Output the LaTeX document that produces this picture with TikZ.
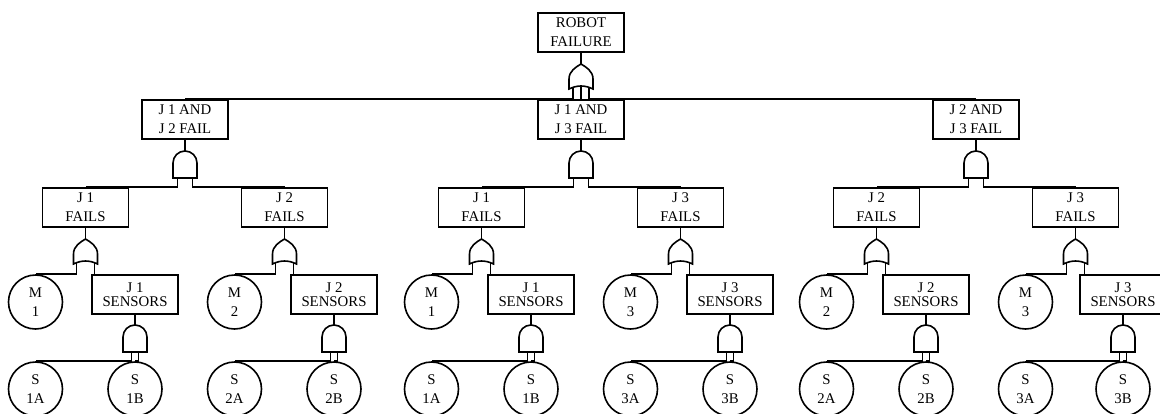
\documentclass[tikz,border=0pt]{standalone}
\usepackage{fontspec}
\setmainfont{Liberation Serif}
\usetikzlibrary{positioning}

\begin{document}
\begin{tikzpicture}[x=1pt,y=-1pt,line width=1.6pt,
    every node/.style={font=\fontsize{14.8}{19}\selectfont},
    evbox/.style={draw,minimum width=86pt,minimum height=39pt,
                  inner sep=0pt,align=center},
    snbox/.style={evbox,font=\fontsize{14.8}{14}\selectfont},
    basic/.style={draw,circle,minimum size=54pt,inner sep=0pt,align=center},
    pics/andgate/.style={code={
      \draw (-12,0) -- (-12,-15) arc[start angle=180,end angle=360,radius=12]
            -- (12,0) -- cycle;
      \coordinate (-top) at (0,-27);
      \coordinate (-in1) at (-#1,0);
      \coordinate (-in2) at (#1,0);
    }},
    pics/orgate/.style={code={
      \draw (-12,0) -- (-12,-10) .. controls (-12,-18) and (-5,-22) .. (0,-25)
            .. controls (5,-22) and (12,-18) .. (12,-10) -- (12,0)
            .. controls (4,-4) and (-4,-4) .. (-12,0) -- cycle;
      \coordinate (-top) at (0,-25);
      \coordinate (-in0) at (0,-3);
      \coordinate (-in1) at (-#1,-1.3);
      \coordinate (-in2) at (#1,-1.3);
    }}]
  \useasboundingbox (0,0) rectangle (1160,413);

  %% Top event
  \node[evbox] (rf) at (581,32.5) {ROBOT\\FAILURE};
  \pic (g0) at (581,89) {orgate=8};

  %% Joint pairs
  \node[evbox] (j12) at (185,119.5) {J 1 AND\\J 2 FAIL};
  \node[evbox] (j13) at (581,119.5) {J 1 AND\\J 3 FAIL};
  \node[evbox] (j23) at (976,119.5) {J 2 AND\\J 3 FAIL};
  \pic (a12) at (185,178) {andgate=7.5};
  \pic (a13) at (581,178) {andgate=7.5};
  \pic (a23) at (976,178) {andgate=7.5};

  \draw (rf.south) -- (g0-top);
  \draw (g0-in1) |- (j12.north);
  \draw (g0-in0) -- (j13.north);
  \draw (g0-in2) |- (j23.north);
  \draw (j12.south) -- (a12-top);
  \draw (j13.south) -- (a13-top);
  \draw (j23.south) -- (a23-top);

  %% Single joint failures
  \node[evbox] (fa1) at (85.5,207.5)   {J 1\\FAILS};
  \node[evbox] (fa2) at (284.5,207.5)  {J 2\\FAILS};
  \node[evbox] (fb1) at (481.5,207.5)  {J 1\\FAILS};
  \node[evbox] (fb3) at (680.5,207.5)  {J 3\\FAILS};
  \node[evbox] (fc2) at (876.5,207.5)  {J 2\\FAILS};
  \node[evbox] (fc3) at (1075.5,207.5) {J 3\\FAILS};

  \draw (a12-in1) |- (fa1.north);
  \draw (a12-in2) |- (fa2.north);
  \draw (a13-in1) |- (fb1.north);
  \draw (a13-in2) |- (fb3.north);
  \draw (a23-in1) |- (fc2.north);
  \draw (a23-in2) |- (fc3.north);

  \pic (oa1) at (85.5,264)   {orgate=9};
  \pic (oa2) at (284.5,264)  {orgate=9};
  \pic (ob1) at (481.5,264)  {orgate=9};
  \pic (ob3) at (680.5,264)  {orgate=9};
  \pic (oc2) at (876.5,264)  {orgate=9};
  \pic (oc3) at (1075.5,264) {orgate=9};

  \draw (fa1.south) -- (oa1-top);
  \draw (fa2.south) -- (oa2-top);
  \draw (fb1.south) -- (ob1-top);
  \draw (fb3.south) -- (ob3-top);
  \draw (fc2.south) -- (oc2-top);
  \draw (fc3.south) -- (oc3-top);

  %% Motors and sensor groups
  \node[basic] (ma1) at (35.5,302)   {M\\1};
  \node[basic] (ma2) at (234.5,302)  {M\\2};
  \node[basic] (mb1) at (431.5,302)  {M\\1};
  \node[basic] (mb3) at (630.5,302)  {M\\3};
  \node[basic] (mc2) at (826.5,302)  {M\\2};
  \node[basic] (mc3) at (1025.5,302) {M\\3};

  \node[snbox] (sna1) at (135,294.5)  {J 1\\SENSORS};
  \node[snbox] (sna2) at (334,294.5)  {J 2\\SENSORS};
  \node[snbox] (snb1) at (531,294.5)  {J 1\\SENSORS};
  \node[snbox] (snb3) at (730,294.5)  {J 3\\SENSORS};
  \node[snbox] (snc2) at (926,294.5)  {J 2\\SENSORS};
  \node[snbox] (snc3) at (1123,294.5) {J 3\\SENSORS};

  \draw (oa1-in1) |- (ma1.north);
  \draw (oa2-in1) |- (ma2.north);
  \draw (ob1-in1) |- (mb1.north);
  \draw (ob3-in1) |- (mb3.north);
  \draw (oc2-in1) |- (mc2.north);
  \draw (oc3-in1) |- (mc3.north);
  \draw (oa1-in2) -- (oa1-in2 |- sna1.north);
  \draw (oa2-in2) -- (oa2-in2 |- sna2.north);
  \draw (ob1-in2) -- (ob1-in2 |- snb1.north);
  \draw (ob3-in2) -- (ob3-in2 |- snb3.north);
  \draw (oc2-in2) -- (oc2-in2 |- snc2.north);
  \draw (oc3-in2) -- (oc3-in2 |- snc3.north);

  \pic (ga1) at (135,352)  {andgate=3.5};
  \pic (ga2) at (334,352)  {andgate=3.5};
  \pic (gb1) at (531,352)  {andgate=3.5};
  \pic (gb3) at (730,352)  {andgate=3.5};
  \pic (gc2) at (926,352)  {andgate=3.5};
  \pic (gc3) at (1123,352) {andgate=3.5};

  \draw (sna1.south) -- (ga1-top);
  \draw (sna2.south) -- (ga2-top);
  \draw (snb1.south) -- (gb1-top);
  \draw (snb3.south) -- (gb3-top);
  \draw (snc2.south) -- (gc2-top);
  \draw (snc3.south) -- (gc3-top);

  %% Individual sensors
  \node[basic] (sa1a) at (35.5,389)   {S\\1A};
  \node[basic] (sa1b) at (135,389)    {S\\1B};
  \node[basic] (sa2a) at (234.5,389)  {S\\2A};
  \node[basic] (sa2b) at (334,389)    {S\\2B};
  \node[basic] (sb1a) at (431.5,389)  {S\\1A};
  \node[basic] (sb1b) at (531,389)    {S\\1B};
  \node[basic] (sb3a) at (630.5,389)  {S\\3A};
  \node[basic] (sb3b) at (730,389)    {S\\3B};
  \node[basic] (sc2a) at (826.5,389)  {S\\2A};
  \node[basic] (sc2b) at (926,389)    {S\\2B};
  \node[basic] (sc3a) at (1025.5,389) {S\\3A};
  \node[basic] (sc3b) at (1123,389)   {S\\3B};

  \draw (ga1-in1) |- (sa1a.north);
  \draw (ga1-in2) |- (sa1b.north);
  \draw (ga2-in1) |- (sa2a.north);
  \draw (ga2-in2) |- (sa2b.north);
  \draw (gb1-in1) |- (sb1a.north);
  \draw (gb1-in2) |- (sb1b.north);
  \draw (gb3-in1) |- (sb3a.north);
  \draw (gb3-in2) |- (sb3b.north);
  \draw (gc2-in1) |- (sc2a.north);
  \draw (gc2-in2) |- (sc2b.north);
  \draw (gc3-in1) |- (sc3a.north);
  \draw (gc3-in2) |- (sc3b.north);
\end{tikzpicture}
\end{document}
